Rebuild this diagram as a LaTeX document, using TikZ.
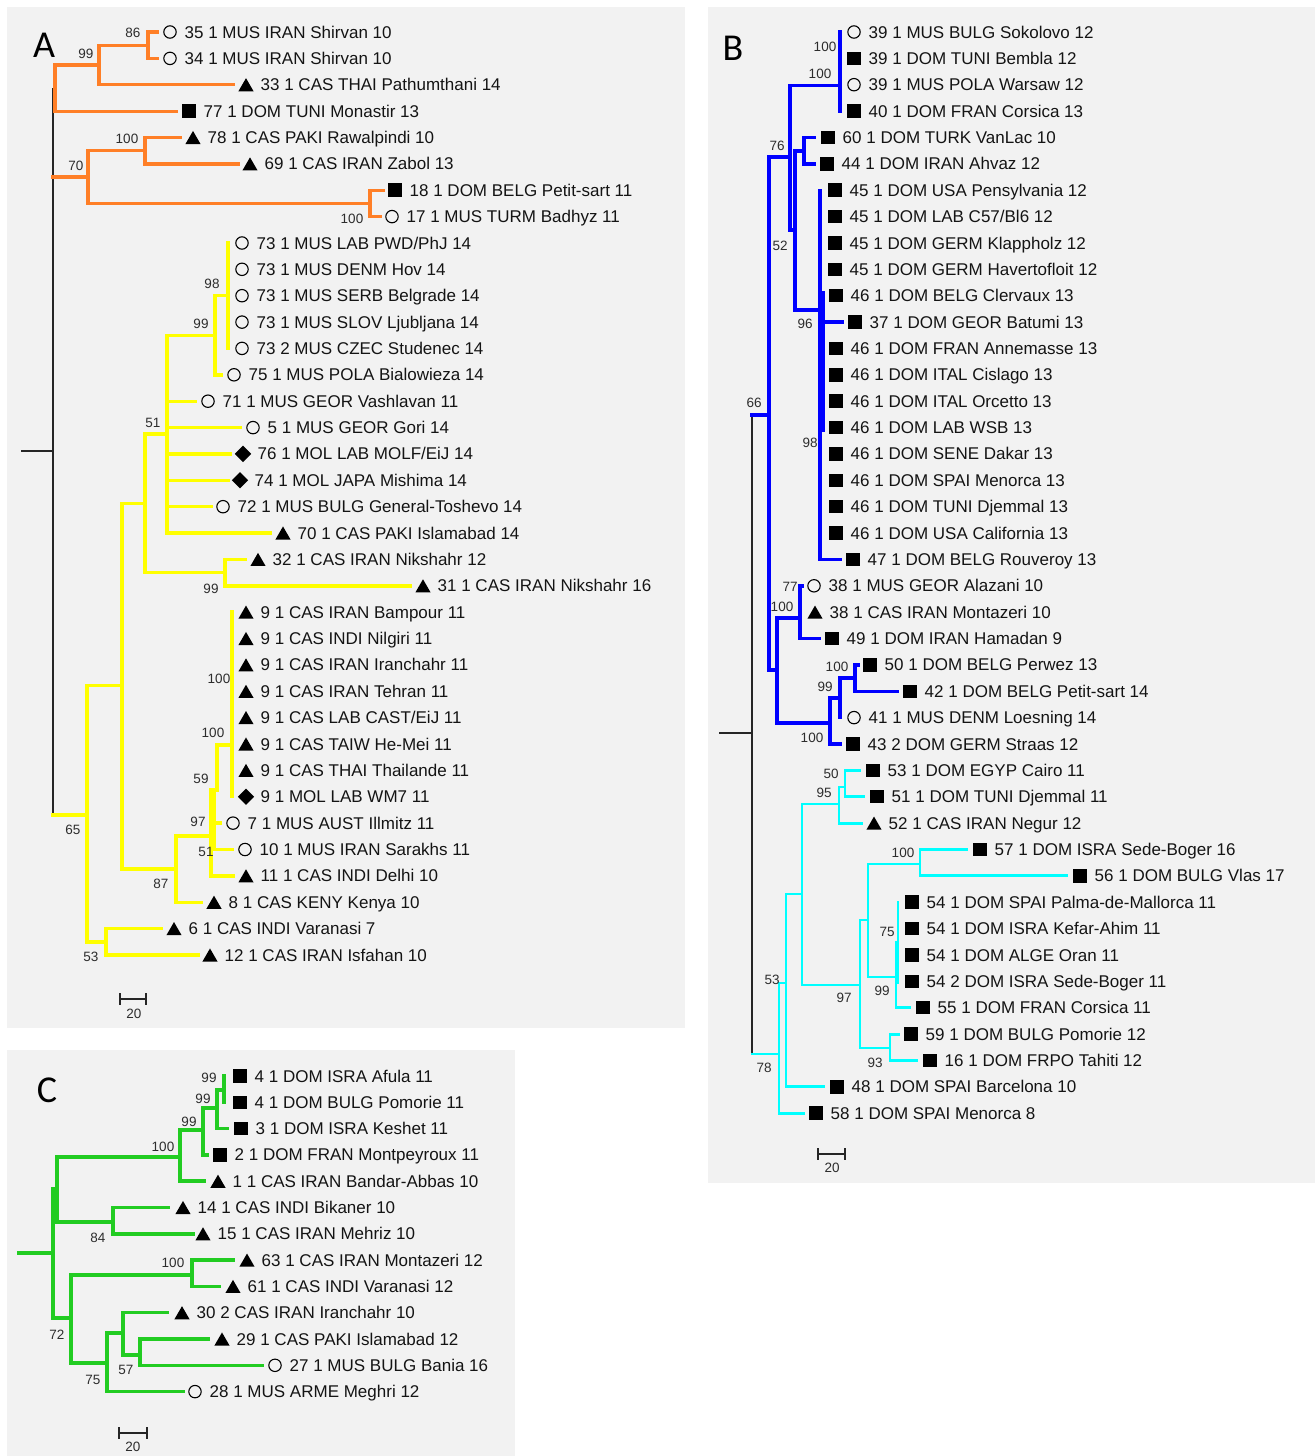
\documentclass[tikz,border=0pt]{standalone}
\usepackage{fontspec}
\setmainfont{Liberation Sans}
\newfontfamily\letterfont{Carlito}
\usetikzlibrary{shapes.geometric}
\definecolor{panelbg}{RGB}{242,242,242}
\definecolor{orangeA}{RGB}{255,127,39}
\definecolor{yellowA}{RGB}{255,255,0}
\definecolor{blueB}{RGB}{0,0,255}
\definecolor{cyanB}{RGB}{0,255,255}
\definecolor{greenC}{RGB}{34,204,34}
\definecolor{txt}{RGB}{20,20,20}
\definecolor{bstxt}{RGB}{45,45,45}
\newcommand\leaf[5]{\node[mk#4] (#1) at (#2,#3) {};\node[lbl] (#1t) at (#2+14.5,#3+6) {#5};}
\newcommand\bsv[4]{\node[bs] (#1) at (#2,#3) {#4};}
\begin{document}
\begin{tikzpicture}[x=1pt,y=-1pt,
  mkc/.style={circle,draw=black,line width=1.1pt,minimum size=12.4pt,inner sep=0pt},
  mks/.style={rectangle,fill=black,minimum size=13.5pt,inner sep=0pt},
  mkt/.style={regular polygon,regular polygon sides=3,fill=black,minimum size=17.5pt,inner sep=0pt,yshift=-2.2pt},
  mkd/.style={diamond,fill=black,minimum size=16.5pt,inner sep=0pt},
  lbl/.style={anchor=base west,inner sep=0pt,font=\fontsize{17}{20}\selectfont,text=txt},
  bs/.style={inner sep=0pt,font=\fontsize{13.5}{15}\selectfont,text=bstxt},
  letter/.style={inner sep=0pt,font=\letterfont\fontsize{38}{40}\selectfont,text=black},
  brO/.style={draw=orangeA,line width=3.2pt,line cap=rect},
  brY/.style={draw=yellowA,line width=3.4pt,line cap=rect},
  brB/.style={draw=blueB,line width=3.4pt,line cap=rect},
  brC/.style={draw=cyanB,line width=2.8pt,line cap=rect},
  brG/.style={draw=greenC,line width=3.5pt,line cap=rect},
  brK/.style={draw=black!85,line width=1.3pt},
  sbar/.style={draw=black!85,line width=1.4pt}]
\useasboundingbox (0,0) rectangle (1315,1456);
\fill[white] (0,0) rectangle (1315,1456);
% panels
\fill[panelbg] (7,7) rectangle (685,1028);
\fill[panelbg] (708,7) rectangle (1315,1183);
\fill[panelbg] (7,1050) rectangle (515,1456);
\node[letter] (LA) at (44,45) {A};
\node[letter] (LB) at (733,48) {B};
\node[letter] (LC) at (47,1090) {C};

% ---------------- Panel A tree ----------------
\draw[brK] (21,451) -- (53,451) (53,88) -- (53,815);
\draw[brO] (157,32) -- (148,32) -- (148,58.4) -- (157,58.4)
  (148,45.2) -- (99,45.2) -- (99,84.7) -- (233,84.7)
  (99,65) -- (55,65) -- (55,111.1) -- (176,111.1)
  (53,177) -- (88,177)
  (145,150.7) -- (88,150.7) -- (88,203.4) -- (370,203.4)
  (180,137.5) -- (145,137.5) -- (145,163.9) -- (238,163.9)
  (383,190.2) -- (370,190.2) -- (370,216.6) -- (380,216.6);
\draw[brY] (228,243) -- (228,348.4)
  (215,295.7) -- (228,295.7)
  (215,295.7) -- (215,374.8) -- (221,374.8)
  (167,335.2) -- (215,335.2)
  (145,434) -- (167,434)
  (167,335.2) -- (167,533) -- (270,533)
  (167,401.2) -- (195,401.2)
  (167,427.6) -- (240,427.6)
  (167,453.9) -- (230,453.9)
  (167,480.3) -- (228,480.3)
  (167,506.7) -- (211,506.7)
  (245,559.4) -- (225,559.4) -- (225,585.8) -- (410,585.8)
  (145,572.6) -- (225,572.6)
  (122,503.3) -- (145,503.3)
  (145,434) -- (145,572.6)
  (87,685.6) -- (122,685.6)
  (122,503.3) -- (122,869) -- (176,869)
  (201,902.2) -- (176,902.2) -- (176,836) -- (211,836)
  (232,612.1) -- (232,796.7)
  (232,745) -- (217,745) -- (217,790) -- (211,790) -- (211,875.8) -- (233,875.8)
  (214,790) -- (214,849.5) -- (232,849.5)
  (214,823.1) -- (220,823.1)
  (53,815) -- (87,815)
  (87,685.6) -- (87,941.8)
  (161,928.6) -- (106,928.6) -- (106,955) -- (198,955)
  (87,941.8) -- (106,941.8);

\leaf{a0}{170}{32.0}{c}{35 1 MUS IRAN Shirvan 10}
\leaf{a1}{170}{58.4}{c}{34 1 MUS IRAN Shirvan 10}
\leaf{a2}{246}{84.7}{t}{33 1 CAS THAI Pathumthani 14}
\leaf{a3}{189}{111.1}{s}{77 1 DOM TUNI Monastir 13}
\leaf{a4}{193}{137.5}{t}{78 1 CAS PAKI Rawalpindi 10}
\leaf{a5}{250}{163.9}{t}{69 1 CAS IRAN Zabol 13}
\leaf{a6}{395}{190.2}{s}{18 1 DOM BELG Petit-sart 11}
\leaf{a7}{392}{216.6}{c}{17 1 MUS TURM Badhyz 11}
\leaf{a8}{242}{243.0}{c}{73 1 MUS LAB PWD/PhJ 14}
\leaf{a9}{242}{269.3}{c}{73 1 MUS DENM Hov 14}
\leaf{a10}{242}{295.7}{c}{73 1 MUS SERB Belgrade 14}
\leaf{a11}{242}{322.1}{c}{73 1 MUS SLOV Ljubljana 14}
\leaf{a12}{242}{348.4}{c}{73 2 MUS CZEC Studenec 14}
\leaf{a13}{234}{374.8}{c}{75 1 MUS POLA Bialowieza 14}
\leaf{a14}{208}{401.2}{c}{71 1 MUS GEOR Vashlavan 11}
\leaf{a15}{253}{427.6}{c}{5 1 MUS GEOR Gori 14}
\leaf{a16}{243}{453.9}{d}{76 1 MOL LAB MOLF/EiJ 14}
\leaf{a17}{240}{480.3}{d}{74 1 MOL JAPA Mishima 14}
\leaf{a18}{223}{506.7}{c}{72 1 MUS BULG General-Toshevo 14}
\leaf{a19}{283}{533.0}{t}{70 1 CAS PAKI Islamabad 14}
\leaf{a20}{258}{559.4}{t}{32 1 CAS IRAN Nikshahr 12}
\leaf{a21}{423}{585.8}{t}{31 1 CAS IRAN Nikshahr 16}
\leaf{a22}{246}{612.1}{t}{9 1 CAS IRAN Bampour 11}
\leaf{a23}{246}{638.5}{t}{9 1 CAS INDI Nilgiri 11}
\leaf{a24}{246}{664.9}{t}{9 1 CAS IRAN Iranchahr 11}
\leaf{a25}{246}{691.3}{t}{9 1 CAS IRAN Tehran 11}
\leaf{a26}{246}{717.6}{t}{9 1 CAS LAB CAST/EiJ 11}
\leaf{a27}{246}{744.0}{t}{9 1 CAS TAIW He-Mei 11}
\leaf{a28}{246}{770.4}{t}{9 1 CAS THAI Thailande 11}
\leaf{a29}{246}{796.7}{d}{9 1 MOL LAB WM7 11}
\leaf{a30}{233}{823.1}{c}{7 1 MUS AUST Illmitz 11}
\leaf{a31}{245}{849.5}{c}{10 1 MUS IRAN Sarakhs 11}
\leaf{a32}{246}{875.8}{t}{11 1 CAS INDI Delhi 10}
\leaf{a33}{214}{902.2}{t}{8 1 CAS KENY Kenya 10}
\leaf{a34}{174}{928.6}{t}{6 1 CAS INDI Varanasi 7}
\leaf{a35}{210}{955.0}{t}{12 1 CAS IRAN Isfahan 10}

\bsv{sa1}{133}{33}{86}
\bsv{sa2}{86}{54}{99}
\bsv{sa3}{127}{139}{100}
\bsv{sa4}{76}{166}{70}
\bsv{sa5}{352}{219}{100}
\bsv{sa6}{212}{284}{98}
\bsv{sa7}{201}{324}{99}
\bsv{sa8}{153}{423}{51}
\bsv{sa9}{211}{589}{99}
\bsv{sa10}{219}{679}{100}
\bsv{sa11}{213}{733}{100}
\bsv{sa12}{201}{779}{59}
\bsv{sa13}{198}{822}{97}
\bsv{sa14}{206}{852}{51}
\bsv{sa15}{161}{884}{87}
\bsv{sa16}{73}{830}{65}
\bsv{sa17}{91}{957}{53}
\draw[sbar] (120,999) -- (146,999) (120,993) -- (120,1005) (146,993) -- (146,1005);
\bsv{scA}{134}{1014}{20}

% ---------------- Panel B tree ----------------
\draw[brK] (719,733) -- (752,733) (752,415) -- (752,1054);
\draw[brB] (840,32) -- (840,111.1)
  (790,85.7) -- (840,85.7)
  (769,157) -- (790,157)
  (790,85.7) -- (790,230) -- (795,230)
  (795,151) -- (795,310) -- (820,310)
  (795,151) -- (804,151)
  (814,137.5) -- (804,137.5) -- (804,163.9) -- (814,163.9)
  (820,190.2) -- (820,559.4) -- (840,559.4)
  (823,293) -- (823,430)
  (823,322.1) -- (842,322.1)
  (752,415) -- (769,415)
  (769,157) -- (769,670) -- (777,670)
  (777,618) -- (777,723)
  (777,618) -- (800,618)
  (802,585.8) -- (800,585.8) -- (800,638.5) -- (819,638.5)
  (777,723) -- (830,723)
  (830,698) -- (830,744) -- (840,744)
  (830,698) -- (840,698)
  (840,678) -- (840,717.6)
  (840,678) -- (855,678)
  (858,664.9) -- (855,664.9) -- (855,691.3) -- (897,691.3);
\draw[brC] (752,1054) -- (779,1054)
  (779,983) -- (779,1113.2) -- (804,1113.2)
  (779,983) -- (786,983)
  (786,894) -- (786,1086.8) -- (824,1086.8)
  (786,894) -- (802,894)
  (802,804) -- (802,985)
  (802,804) -- (839,804)
  (839,787) -- (839,823.1) -- (862,823.1)
  (839,787) -- (845,787)
  (860,770.4) -- (845,770.4) -- (845,796.7) -- (864,796.7)
  (802,985) -- (860,985)
  (860,920) -- (860,1048)
  (860,920) -- (868,920)
  (868,864) -- (868,977)
  (868,864) -- (920,864)
  (967,849.5) -- (920,849.5) -- (920,875.8) -- (1067,875.8)
  (868,977) -- (896,977)
  (898,902.2) -- (898,983)
  (896,942) -- (896,1007.7) -- (910,1007.7)
  (860,1048) -- (890,1048)
  (899,1034.1) -- (890,1034.1) -- (890,1060.4) -- (917,1060.4);

\leaf{b0}{854}{32.0}{c}{39 1 MUS BULG Sokolovo 12}
\leaf{b1}{854}{58.4}{s}{39 1 DOM TUNI Bembla 12}
\leaf{b2}{854}{84.7}{c}{39 1 MUS POLA Warsaw 12}
\leaf{b3}{854}{111.1}{s}{40 1 DOM FRAN Corsica 13}
\leaf{b4}{828}{137.5}{s}{60 1 DOM TURK VanLac 10}
\leaf{b5}{827}{163.9}{s}{44 1 DOM IRAN Ahvaz 12}
\leaf{b6}{835}{190.2}{s}{45 1 DOM USA Pensylvania 12}
\leaf{b7}{835}{216.6}{s}{45 1 DOM LAB C57/Bl6 12}
\leaf{b8}{835}{243.0}{s}{45 1 DOM GERM Klappholz 12}
\leaf{b9}{835}{269.3}{s}{45 1 DOM GERM Havertofloit 12}
\leaf{b10}{836}{295.7}{s}{46 1 DOM BELG Clervaux 13}
\leaf{b11}{855}{322.1}{s}{37 1 DOM GEOR Batumi 13}
\leaf{b12}{836}{348.4}{s}{46 1 DOM FRAN Annemasse 13}
\leaf{b13}{836}{374.8}{s}{46 1 DOM ITAL Cislago 13}
\leaf{b14}{836}{401.2}{s}{46 1 DOM ITAL Orcetto 13}
\leaf{b15}{836}{427.6}{s}{46 1 DOM LAB WSB 13}
\leaf{b16}{836}{453.9}{s}{46 1 DOM SENE Dakar 13}
\leaf{b17}{836}{480.3}{s}{46 1 DOM SPAI Menorca 13}
\leaf{b18}{836}{506.7}{s}{46 1 DOM TUNI Djemmal 13}
\leaf{b19}{836}{533.0}{s}{46 1 DOM USA California 13}
\leaf{b20}{853}{559.4}{s}{47 1 DOM BELG Rouveroy 13}
\leaf{b21}{814}{585.8}{c}{38 1 MUS GEOR Alazani 10}
\leaf{b22}{815}{612.1}{t}{38 1 CAS IRAN Montazeri 10}
\leaf{b23}{832}{638.5}{s}{49 1 DOM IRAN Hamadan 9}
\leaf{b24}{870}{664.9}{s}{50 1 DOM BELG Perwez 13}
\leaf{b25}{910}{691.3}{s}{42 1 DOM BELG Petit-sart 14}
\leaf{b26}{854}{717.6}{c}{41 1 MUS DENM Loesning 14}
\leaf{b27}{853}{744.0}{s}{43 2 DOM GERM Straas 12}
\leaf{b28}{873}{770.4}{s}{53 1 DOM EGYP Cairo 11}
\leaf{b29}{877}{796.7}{s}{51 1 DOM TUNI Djemmal 11}
\leaf{b30}{874}{823.1}{t}{52 1 CAS IRAN Negur 12}
\leaf{b31}{980}{849.5}{s}{57 1 DOM ISRA Sede-Boger 16}
\leaf{b32}{1080}{875.8}{s}{56 1 DOM BULG Vlas 17}
\leaf{b33}{912}{902.2}{s}{54 1 DOM SPAI Palma-de-Mallorca 11}
\leaf{b34}{912}{928.6}{s}{54 1 DOM ISRA Kefar-Ahim 11}
\leaf{b35}{912}{955.0}{s}{54 1 DOM ALGE Oran 11}
\leaf{b36}{912}{981.3}{s}{54 2 DOM ISRA Sede-Boger 11}
\leaf{b37}{923}{1007.7}{s}{55 1 DOM FRAN Corsica 11}
\leaf{b38}{911}{1034.1}{s}{59 1 DOM BULG Pomorie 12}
\leaf{b39}{930}{1060.4}{s}{16 1 DOM FRPO Tahiti 12}
\leaf{b40}{837}{1086.8}{s}{48 1 DOM SPAI Barcelona 10}
\leaf{b41}{816}{1113.2}{s}{58 1 DOM SPAI Menorca 8}

\bsv{sb1}{825}{47}{100}
\bsv{sb2}{820}{74}{100}
\bsv{sb3}{777}{146}{76}
\bsv{sb4}{780}{246}{52}
\bsv{sb5}{805}{324}{96}
\bsv{sb6}{810}{443}{98}
\bsv{sb7}{754}{403}{66}
\bsv{sb8}{790}{587}{77}
\bsv{sb9}{782}{607}{100}
\bsv{sb10}{837}{667}{100}
\bsv{sb11}{825}{687}{99}
\bsv{sb12}{812}{738}{100}
\bsv{sb13}{831}{774}{50}
\bsv{sb14}{824}{793}{95}
\bsv{sb15}{903}{853}{100}
\bsv{sb16}{887}{932}{75}
\bsv{sb17}{882}{991}{99}
\bsv{sb18}{844}{998}{97}
\bsv{sb19}{772}{980}{53}
\bsv{sb20}{875}{1063}{93}
\bsv{sb21}{764}{1068}{78}
\draw[sbar] (818,1154) -- (845,1154) (818,1148) -- (818,1160) (845,1148) -- (845,1160);
\bsv{scB}{832}{1168}{20}

% ---------------- Panel C tree ----------------
\draw[brG] (19,1253) -- (53,1253)
  (53,1189) -- (53,1318) -- (71,1318)
  (53,1189) -- (57,1189)
  (57,1157) -- (57,1222)
  (57,1157) -- (180,1157)
  (180,1130) -- (180,1181.2) -- (204,1181.2)
  (180,1130) -- (203,1130)
  (203,1108) -- (203,1154.9) -- (207,1154.9)
  (203,1108) -- (217,1108)
  (217,1090) -- (217,1128.6) -- (227,1128.6)
  (217,1090) -- (224,1090)
  (224,1076) -- (224,1102.3)
  (57,1222) -- (113,1222)
  (168,1207.5) -- (113,1207.5) -- (113,1233.8) -- (193,1233.8)
  (71,1275) -- (71,1363)
  (71,1275) -- (192,1275)
  (233,1260.1) -- (192,1260.1) -- (192,1286.4) -- (219,1286.4)
  (71,1363) -- (107,1363)
  (107,1333) -- (107,1391.6) -- (183,1391.6)
  (107,1333) -- (123,1333)
  (167,1312.7) -- (123,1312.7) -- (123,1355) -- (140,1355)
  (208,1339) -- (140,1339) -- (140,1365.3) -- (262,1365.3);

\leaf{c0}{240}{1076.0}{s}{4 1 DOM ISRA Afula 11}
\leaf{c1}{240}{1102.3}{s}{4 1 DOM BULG Pomorie 11}
\leaf{c2}{241}{1128.6}{s}{3 1 DOM ISRA Keshet 11}
\leaf{c3}{220}{1154.9}{s}{2 1 DOM FRAN Montpeyroux 11}
\leaf{c4}{218}{1181.2}{t}{1 1 CAS IRAN Bandar-Abbas 10}
\leaf{c5}{183}{1207.5}{t}{14 1 CAS INDI Bikaner 10}
\leaf{c6}{203}{1233.8}{t}{15 1 CAS IRAN Mehriz 10}
\leaf{c7}{247}{1260.1}{t}{63 1 CAS IRAN Montazeri 12}
\leaf{c8}{233}{1286.4}{t}{61 1 CAS INDI Varanasi 12}
\leaf{c9}{182}{1312.7}{t}{30 2 CAS IRAN Iranchahr 10}
\leaf{c10}{222}{1339.0}{t}{29 1 CAS PAKI Islamabad 12}
\leaf{c11}{275}{1365.3}{c}{27 1 MUS BULG Bania 16}
\leaf{c12}{195}{1391.6}{c}{28 1 MUS ARME Meghri 12}

\bsv{sc1}{209}{1078}{99}
\bsv{sc2}{203}{1099}{99}
\bsv{sc3}{189}{1122}{99}
\bsv{sc4}{163}{1147}{100}
\bsv{sc5}{98}{1238}{84}
\bsv{sc6}{173}{1263}{100}
\bsv{sc7}{57}{1335}{72}
\bsv{sc8}{93}{1380}{75}
\bsv{sc9}{126}{1370}{57}
\draw[sbar] (119,1433) -- (147,1433) (119,1427) -- (119,1439) (147,1427) -- (147,1439);
\bsv{scC}{133}{1447}{20}
\end{tikzpicture}
\end{document}
